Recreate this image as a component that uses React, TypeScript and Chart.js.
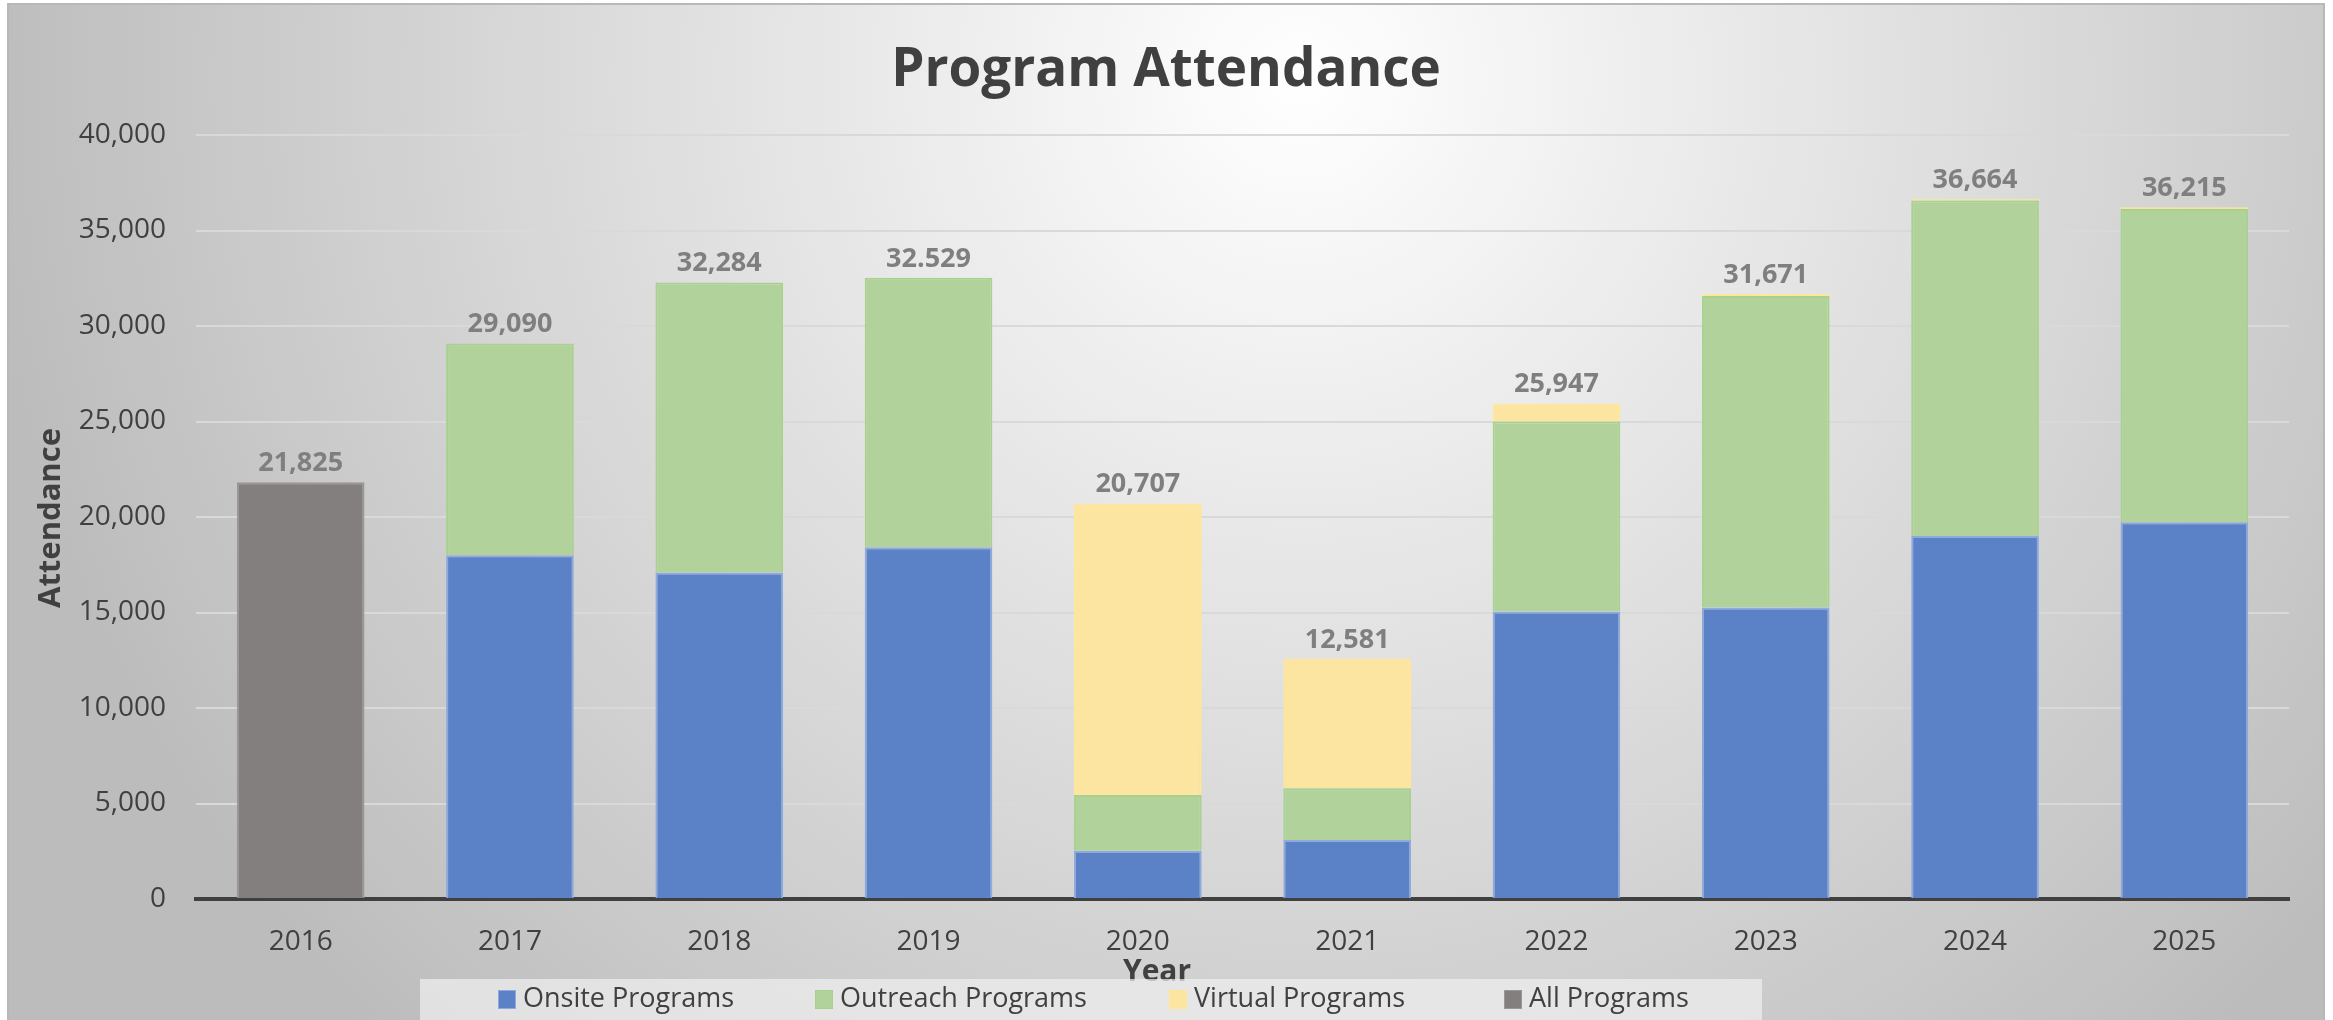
import React, { useEffect, useRef } from 'react';
import { Chart, registerables } from 'chart.js';

Chart.register(...registerables);

const years = ['2016', '2017', '2018', '2019', '2020', '2021', '2022', '2023', '2024', '2025'];
const onsitePrograms = [null, 18000, 17100, 18420, 2520, 3090, 15050, 15260, 19000, 19730];
const outreachPrograms = [null, 11090, 15184, 14109, 2930, 2710, 9950, 16315, 17574, 16395];
const virtualPrograms = [null, null, null, null, 15257, 6781, 947, 96, 90, 90];
const allPrograms = [21825, null, null, null, null, null, null, null, null, null];
const totalLabels = ['21,825', '29,090', '32,284', '32.529', '20,707', '12,581', '25,947', '31,671', '36,664', '36,215'];

const seriesNames = ['Onsite Programs', 'Outreach Programs', 'Virtual Programs', 'All Programs'];
const fillColors = ['#5B81C7', '#B1D39B', '#FCE5A0', '#827F7E'];
const edgeColors = ['#8EA9DB', '#A9D18E', '#FFE699', '#9A9796'];

const W = 2333;
const H = 1020;
const FONT = "'Open Sans', 'DejaVu Sans', sans-serif";

const decorPlugin = {
  id: 'decor',
  beforeDraw(chart: any) {
    const ctx = chart.ctx;
    ctx.save();
    ctx.fillStyle = '#ffffff';
    ctx.fillRect(0, 0, W, H);
    const g = ctx.createRadialGradient(1300, 80, 0, 1300, 80, 1330);
    g.addColorStop(0, '#ffffff');
    g.addColorStop(1, '#bcbcbc');
    ctx.fillStyle = g;
    ctx.fillRect(8, 4, 2316, H);
    ctx.strokeStyle = '#b8b8b8';
    ctx.lineWidth = 2;
    ctx.strokeRect(8, 4, 2316, H + 10);
    ctx.restore();
  },
  afterDatasetsDraw(chart: any) {
    const ctx = chart.ctx;
    ctx.save();
    ctx.font = `bold 27px ${FONT}`;
    ctx.fillStyle = '#7F7F7F';
    ctx.textAlign = 'center';
    ctx.textBaseline = 'alphabetic';
    for (let j = 0; j < years.length; j++) {
      let topY = Infinity;
      let x = 0;
      chart.data.datasets.forEach((ds: any, i: number) => {
        const v = ds.data[j];
        if (v === null || v === undefined) return;
        const el = chart.getDatasetMeta(i).data[j];
        if (el && el.y < topY) {
          topY = el.y;
          x = el.x;
        }
      });
      if (topY < Infinity) ctx.fillText(totalLabels[j], x, topY - 11);
    }
    ctx.restore();
  },
  afterDraw(chart: any) {
    const ctx = chart.ctx;
    ctx.save();
    // Title
    ctx.fillStyle = '#404040';
    ctx.font = `bold 53px ${FONT}`;
    ctx.textAlign = 'center';
    ctx.textBaseline = 'alphabetic';
    ctx.fillText('Program Attendance', 1166, 86);
    // Y title
    ctx.save();
    ctx.translate(60, 518);
    ctx.rotate(-Math.PI / 2);
    ctx.font = `bold 31px ${FONT}`;
    ctx.textAlign = 'center';
    ctx.fillText('Attendance', 0, 0);
    ctx.restore();
    // X title
    ctx.font = `bold 30px ${FONT}`;
    ctx.textAlign = 'center';
    ctx.fillText('Year', 1157, 981);
    // Legend box
    ctx.fillStyle = 'rgba(238,238,238,0.72)';
    ctx.fillRect(420, 979, 1342, 50);
    const markerX = [498, 815, 1169, 1504];
    ctx.font = `27px ${FONT}`;
    ctx.textAlign = 'left';
    ctx.textBaseline = 'middle';
    chart.data.datasets.forEach((ds: any, i: number) => {
      ctx.fillStyle = ds.backgroundColor;
      ctx.fillRect(markerX[i], 990, 18, 19);
      ctx.strokeStyle = ds.borderColor;
      ctx.lineWidth = 1;
      ctx.strokeRect(markerX[i] + 0.5, 990.5, 17, 18);
      ctx.fillStyle = '#404040';
      ctx.fillText(ds.label, markerX[i] + 25, 999);
    });
    ctx.restore();
  },
};

export default function App() {
  const canvasRef = useRef<HTMLCanvasElement | null>(null);

  useEffect(() => {
    document.body.style.margin = '0';
    const canvas = canvasRef.current;
    if (!canvas) return;
    const seriesData = [onsitePrograms, outreachPrograms, virtualPrograms, allPrograms];
    const chart = new Chart(canvas, {
      type: 'bar',
      data: {
        labels: years,
        datasets: seriesData.map((d, i) => ({
          label: seriesNames[i],
          data: d,
          backgroundColor: fillColors[i],
          borderColor: edgeColors[i],
          borderWidth: 2,
          borderSkipped: 'bottom',
          barPercentage: 0.61,
          categoryPercentage: 1,
        })),
      },
      options: {
        responsive: false,
        animation: false,
        devicePixelRatio: 1,
        layout: { padding: { top: 135, left: 0, right: 44, bottom: 0 } },
        plugins: {
          legend: { display: false },
          title: { display: false },
          tooltip: { enabled: false },
        },
        scales: {
          x: {
            stacked: true,
            grid: { display: false, drawTicks: false },
            border: { display: true, color: '#404040', width: 4 },
            ticks: {
              color: '#404040',
              font: { family: FONT, size: 28 },
              padding: 26,
              maxRotation: 0,
            },
            afterFit(scale: any) {
              scale.height = 121;
            },
          },
          y: {
            stacked: true,
            min: 0,
            max: 40000,
            grid: { color: '#D9D9D9', lineWidth: 2, drawTicks: false },
            border: { display: false },
            ticks: {
              stepSize: 5000,
              color: '#404040',
              font: { family: FONT, size: 28 },
              padding: 30,
              callback: (v: any) => Number(v).toLocaleString('en-US'),
            },
            afterFit(scale: any) {
              scale.width = 196;
            },
          },
        },
      },
      plugins: [decorPlugin],
    } as any);
    return () => chart.destroy();
  }, []);

  return (
    <div style={{ width: W, height: H }}>
      <canvas ref={canvasRef} width={W} height={H} style={{ display: 'block', width: W, height: H }} />
    </div>
  );
}
